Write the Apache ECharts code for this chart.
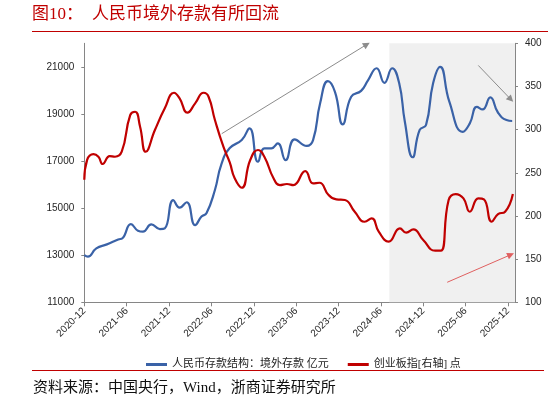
<!DOCTYPE html>
<html>
<head>
<meta charset="utf-8">
<script src="https://cdn.jsdelivr.net/npm/echarts@6/dist/echarts.min.js"></script>
<style>html,body{margin:0;padding:0;background:#fff;}#c{width:548px;height:402px;}</style>
</head>
<body>
<div id="c"></div>
<script>
// x positions are months since 2020-12
var tickLabels = ['2020-12','2021-06','2021-12','2022-06','2022-12','2023-06','2023-12','2024-06','2024-12','2025-06','2025-12'];
var blueName = '人民币存款结构：境外存款 亿元';
var redName = '创业板指[右轴] 点';
var blueX = [0,0.5,1.7,3.2,4.8,5.4,6.6,7.6,8.3,9.5,10.7,11.4,12.6,13.5,14.5,15.7,16.6,17.3,18.5,19.4,20.6,22.3,23.4,24.6,25.5,26.5,27.4,28.5,29.8,31.5,32.4,33.4,34.5,35.5,36.6,37.8,39.2,40.2,41.4,42.5,43.6,44.6,45.4,46.5,47.5,48.4,49.4,50.4,51.7,53.6,54.6,55.6,56.4,57.5,58.6,59.8,60.6];
var blueY = [13000,12940,13290,13460,13670,13720,14320,14040,14000,14310,14110,14140,15340,15020,15250,14280,14640,14780,15770,16850,17550,17890,18390,16970,17540,17540,17750,17040,17920,17640,17890,19450,20390,19940,18560,19730,19980,20440,20940,20320,20940,20300,18670,17160,18320,18530,20300,21000,19520,18240,18600,19300,19190,19700,19050,18740,18700];
var redX = [0,0.4,1.3,2.0,2.6,3.6,4.35,5.3,6.5,7.2,7.9,8.7,10.0,11.4,12.7,13.5,14.6,15.7,16.9,17.6,18.5,19.7,20.6,21.3,22.3,23.5,24.6,25.5,26.8,27.7,28.7,29.6,31.3,32.4,33.3,34.6,35.7,36.9,38.3,39.7,40.7,41.7,43.1,44.7,45.6,46.6,48.0,49.7,50.5,51.6,52.6,53.7,54.6,55.8,56.6,57.7,58.6,59.6,60.7];
var redY = [242,265,271.7,268.6,260.2,269.4,268.6,274.4,316.9,320.7,303.4,274.4,299.5,324.7,342.7,336.2,319.6,330.4,342.7,338.1,311.1,280.2,262,243.6,232.7,264.8,276.4,268.6,243.6,235.8,237,235.8,252,237.8,238.5,224.3,219.3,218.5,204.9,193.3,197.3,181.8,170.2,185.7,180.6,184.5,172.1,159.8,159.8,218.5,225.4,220.4,204.9,220.4,219.3,193.3,202.2,204.9,225.4];

function zip(a, b) { return a.map(function (v, i) { return [v, b[i]]; }); }
function plain(v) { return String(v); }

var chart = echarts.init(document.getElementById('c'));
var axisGray = '#868686';
var labelColor = '#262626';
var sans = 'Liberation Sans, Arial, Noto Sans CJK SC';
var cjk = 'Liberation Serif, Noto Sans CJK SC';
chart.setOption({
  animation: false,
  backgroundColor: '#fff',
  grid: { left: 84.3, right: 33, top: 43.3, bottom: 99.7 },
  legend: {
    left: 141, top: 354, itemWidth: 21, itemHeight: 3, itemGap: 19, icon: 'rect',
    textStyle: { fontSize: 11, color: '#222', fontFamily: cjk },
    data: [blueName, redName]
  },
  xAxis: {
    type: 'value', min: 0, max: 61, interval: 6,
    splitLine: { show: false },
    axisLine: { lineStyle: { color: axisGray } },
    axisTick: { length: 4, lineStyle: { color: axisGray } },
    axisLabel: {
      rotate: 45, margin: 7, fontSize: 10, color: labelColor, fontFamily: sans, showMaxLabel: false,
      formatter: function (v) { return v % 6 === 0 ? tickLabels[v / 6] : ''; }
    }
  },
  yAxis: [{
    type: 'value', min: 11000, max: 22000, interval: 2000,
    splitLine: { show: false },
    axisLine: { show: true, lineStyle: { color: axisGray } },
    axisTick: { show: true, length: 3, lineStyle: { color: axisGray } },
    axisLabel: { margin: 10, fontSize: 10, color: labelColor, fontFamily: sans, showMaxLabel: false, formatter: plain }
  }, {
    type: 'value', min: 100, max: 400, interval: 50, position: 'right',
    splitLine: { show: false },
    axisLine: { show: true, lineStyle: { color: axisGray } },
    axisTick: { show: true, length: 3, lineStyle: { color: axisGray } },
    axisLabel: { margin: 10, fontSize: 10, color: labelColor, fontFamily: sans, formatter: plain }
  }],
  series: [{
    name: blueName, type: 'line', yAxisIndex: 0, smooth: 0.5, showSymbol: false,
    lineStyle: { color: '#3a62a7', width: 2.2 }, itemStyle: { color: '#3a62a7' },
    data: zip(blueX, blueY),
    markArea: {
      silent: true, itemStyle: { color: '#f0f0f0' },
      data: [[{ xAxis: 43.2 }, { xAxis: 61 }]]
    },
    markLine: {
      silent: true, symbol: ['none', 'triangle'], symbolSize: 7,
      label: { show: false },
      lineStyle: { color: '#8c8c8c', width: 1, type: 'solid' },
      data: [
        [{ coord: [19.46, 18160] }, { coord: [40.0, 21950] }],
        [{ coord: [55.8, 21060] }, { coord: [60.4, 19620] }]
      ]
    }
  }, {
    name: redName, type: 'line', yAxisIndex: 1, smooth: 0.5, showSymbol: false,
    lineStyle: { color: '#c00000', width: 2.2 }, itemStyle: { color: '#c00000' },
    data: zip(redX, redY),
    markLine: {
      silent: true, symbol: ['none', 'triangle'], symbolSize: 7,
      label: { show: false },
      lineStyle: { color: '#e06060', width: 1, type: 'solid' },
      data: [
        [{ coord: [51.4, 123.2] }, { coord: [60.4, 155.1] }]
      ]
    }
  }],
  graphic: [
    { type: 'text', left: 32, top: 6, style: { text: '图10：', fontSize: 17, fill: '#c00000', fontFamily: cjk } },
    { type: 'text', left: 92, top: 6, style: { text: '人民币境外存款有所回流', fontSize: 17, fill: '#c00000', fontFamily: cjk } },
    { type: 'rect', shape: { x: 32, y: 31, width: 516, height: 1 }, style: { fill: '#c00000' } },
    { type: 'rect', shape: { x: 32, y: 370, width: 512, height: 1 }, style: { fill: '#c00000' } },
    { type: 'text', left: 33, top: 381, style: { text: '资料来源：中国央行，Wind，浙商证券研究所', fontSize: 15, fill: '#111', fontFamily: cjk } }
  ]
});
</script>
</body>
</html>
